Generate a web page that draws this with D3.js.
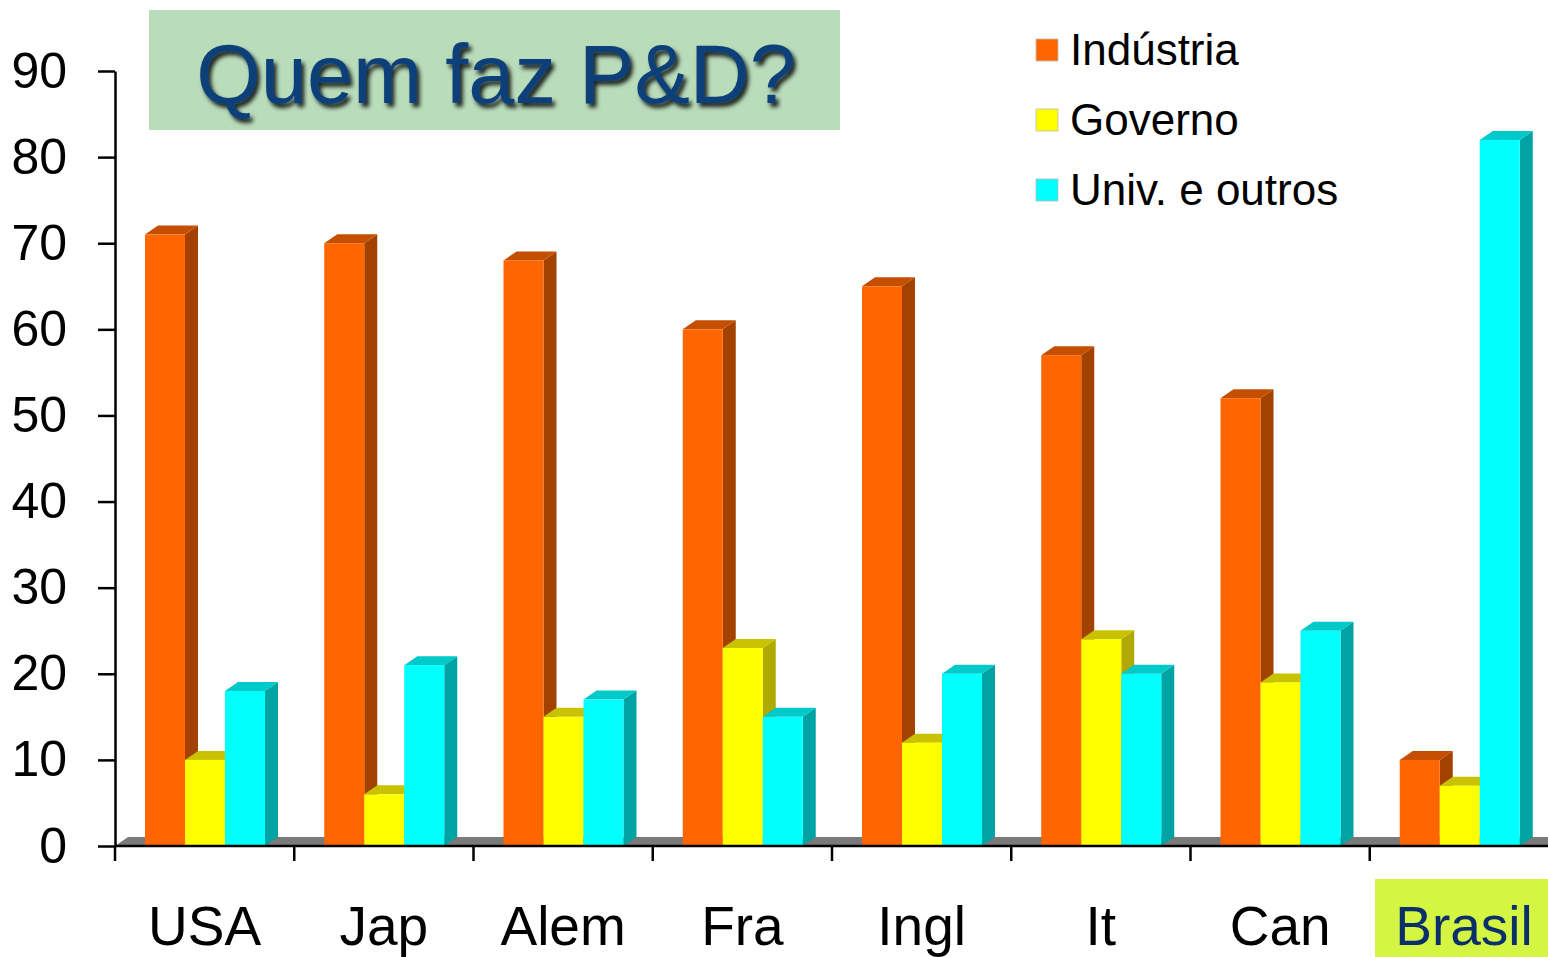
<!DOCTYPE html>
<html>
<head>
<meta charset="utf-8">
<script src="https://cdn.jsdelivr.net/npm/d3@7"></script>
<style>
  html, body { margin: 0; padding: 0; background: #fff; }
  #main { width: 1548px; height: 957px; }
  text { font-family: "Liberation Sans", Arial, sans-serif; }
</style>
</head>
<body>
<div id="main"></div>
<script>
// data
const categories = ["USA", "Jap", "Alem", "Fra", "Ingl", "It", "Can", "Brasil"];
const seriesNames = ["Indústria", "Governo", "Univ. e outros"];
const industria = [71, 70, 68, 60, 65, 57, 52, 10];
const governo = [10, 6, 15, 23, 12, 24, 19, 7];
const univ = [18, 21, 17, 15, 20, 20, 25, 82];
const yTicks = [0, 10, 20, 30, 40, 50, 60, 70, 80, 90];

const seriesValues = [industria, governo, univ];
const colors = [
    { front: "#FF6600", side: "#A34100", top: "#C44F00" },
    { front: "#FFFF00", side: "#B0AA00", top: "#C8C200" },
    { front: "#00FFFF", side: "#00A3A3", top: "#00C9C9" }
];

function createChart() {
    d3.select("#main svg").remove();

    const width = 1548, height = 957;
    const svg = d3.select("#main").append("svg")
        .attr("width", width)
        .attr("height", height);

    const left = 115, right = 1549, y0 = 846, yTop = 71;
    const dx = 13, dy = -9;

    const x0 = d3.scaleBand().domain(categories).range([left, right]);
    const x1 = d3.scaleBand().domain(seriesNames).range([30, 150]);
    const y = d3.scaleLinear().domain([0, 90]).range([y0, yTop]);

    // floor
    svg.append("path")
        .attr("d", `M${left},${y0} L${left + dx},${y0 + dy} L${right + dx},${y0 + dy} L${right},${y0} Z`)
        .attr("fill", "#7a7a7a");

    // bars
    const groups = svg.append("g").selectAll("g")
        .data(categories)
        .join("g")
        .attr("transform", d => `translate(${x0(d)},0)`);

    groups.each(function(cat, ci) {
        const g = d3.select(this);
        seriesNames.forEach((s, si) => {
            const v = seriesValues[si][ci];
            const bx = x1(s), bw = x1.bandwidth(), by = y(v);
            const c = colors[si];
            // side
            g.append("path")
                .attr("d", `M${bx + bw},${by} L${bx + bw + dx},${by + dy} L${bx + bw + dx},${y0 + dy} L${bx + bw},${y0} Z`)
                .attr("fill", c.side);
            // top
            g.append("path")
                .attr("d", `M${bx},${by} L${bx + dx},${by + dy} L${bx + bw + dx},${by + dy} L${bx + bw},${by} Z`)
                .attr("fill", c.top);
            // front
            g.append("rect")
                .attr("x", bx).attr("y", by)
                .attr("width", bw).attr("height", y0 - by)
                .attr("fill", c.front);
        });
    });

    // y axis
    const yAxis = svg.append("g")
        .attr("transform", `translate(${left},0)`)
        .call(d3.axisLeft(y).tickValues(yTicks).tickSize(17).tickPadding(31).tickSizeOuter(0));
    yAxis.select(".domain").attr("stroke", "#000").attr("stroke-width", 2.5);
    yAxis.selectAll(".tick line").attr("stroke", "#000").attr("stroke-width", 2.5);
    yAxis.selectAll(".tick text")
        .attr("font-size", 50)
        .attr("fill", "#000")
        .style("font-family", "'Liberation Sans', Arial, sans-serif");

    // x axis line + boundary ticks
    svg.append("line")
        .attr("x1", left).attr("x2", right)
        .attr("y1", y0).attr("y2", y0)
        .attr("stroke", "#000").attr("stroke-width", 2.5);
    svg.append("g").selectAll("line")
        .data(categories)
        .join("line")
        .attr("x1", d => x0(d)).attr("x2", d => x0(d))
        .attr("y1", y0).attr("y2", y0 + 15)
        .attr("stroke", "#000").attr("stroke-width", 2.5);

    // Brasil highlight box
    const bLast = categories[categories.length - 1];
    svg.append("rect")
        .attr("x", 1375).attr("y", 879)
        .attr("width", 173).attr("height", 78)
        .attr("fill", "#D4F542");

    svg.append("g").selectAll("text")
        .data(categories)
        .join("text")
        .attr("x", d => d === bLast ? 1464 : x0(d) + x0.bandwidth() / 2)
        .attr("y", 945)
        .attr("text-anchor", "middle")
        .attr("font-size", 55)
        .attr("fill", d => d === bLast ? "#0A2F6A" : "#000")
        .text(d => d);

    // title
    const defs = svg.append("defs");
    const f = defs.append("filter").attr("id", "shadow")
        .attr("x", "-10%").attr("y", "-10%").attr("width", "120%").attr("height", "130%");
    f.append("feDropShadow")
        .attr("dx", 3).attr("dy", 4).attr("stdDeviation", 2)
        .attr("flood-color", "#000").attr("flood-opacity", 0.85);

    svg.append("rect")
        .attr("x", 149).attr("y", 10)
        .attr("width", 691).attr("height", 120)
        .attr("fill", "#B9DCBB");
    svg.append("text")
        .attr("x", 496).attr("y", 103)
        .attr("text-anchor", "middle")
        .attr("font-size", 83)
        .attr("fill", "#0B3F78")
        .attr("filter", "url(#shadow)")
        .text("Quem faz P&D?");

    // legend
    const legend = svg.append("g").selectAll("g")
        .data(seriesNames)
        .join("g")
        .attr("transform", (d, i) => `translate(1036,${50 + i * 70})`);
    legend.append("rect")
        .attr("x", 0).attr("y", -11)
        .attr("width", 22).attr("height", 22)
        .attr("fill", (d, i) => colors[i].front)
        .attr("stroke", "#bbb").attr("stroke-width", 0.8);
    legend.append("text")
        .attr("x", 34).attr("y", 15)
        .attr("font-size", 44)
        .attr("fill", "#000")
        .text(d => d);
}

document.addEventListener("DOMContentLoaded", function() {
    createChart();
});
</script>
</body>
</html>
